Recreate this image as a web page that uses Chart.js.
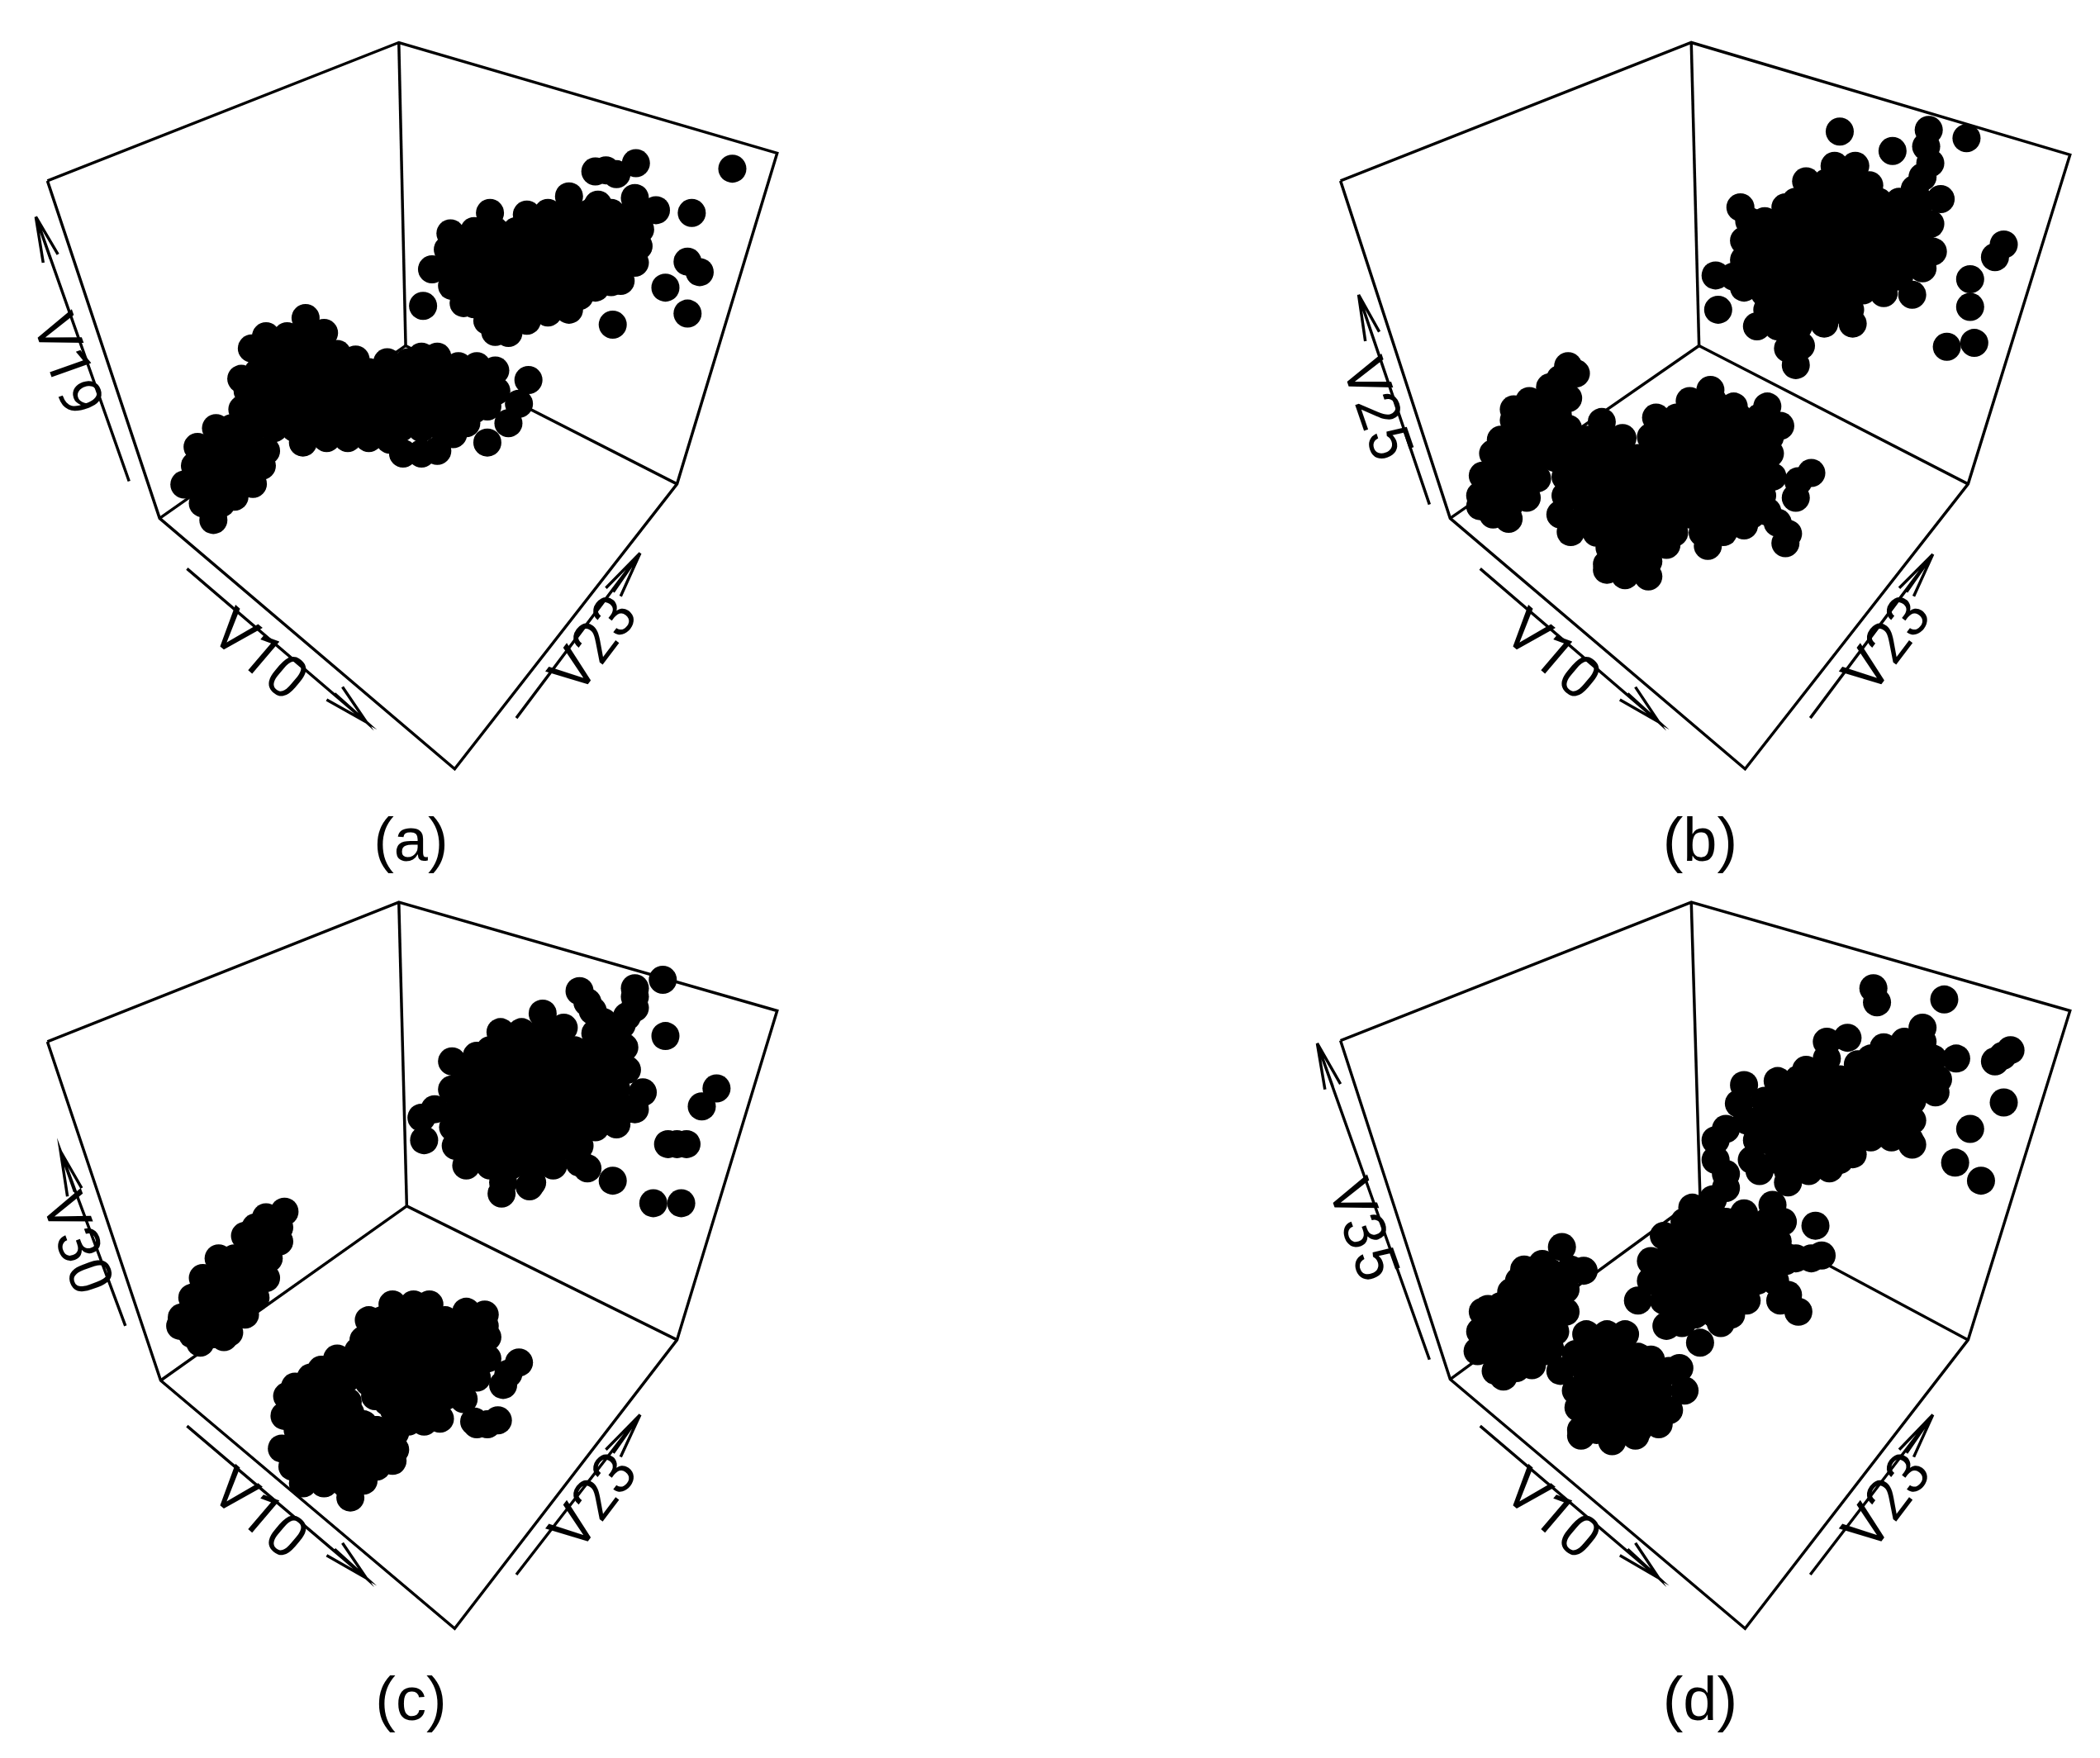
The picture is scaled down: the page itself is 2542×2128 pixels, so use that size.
<!DOCTYPE html>
<html>
<head>
<meta charset="utf-8">
<title>3D scatter panels</title>
<script src="https://cdn.jsdelivr.net/npm/chart.js@4"></script>
<style>
  html, body { margin: 0; background: #fff; }
  #page { position: relative; width: 2542px; height: 2128px; overflow: hidden; }
  #page canvas { position: absolute; }
</style>
</head>
<body>
<div id="page"></div>
<script>
var captions = ["(a)", "(b)", "(c)", "(d)"];
var xLabels = ["V10", "V10", "V10", "V10"];
var yLabels = ["V23", "V23", "V23", "V23"];
var zLabels = ["V19", "V25", "V30", "V35"];

// Panel (a)
var pointsA = [
  [1130,280],[1170,285],[1207,265],[1150,278],[1390,275],[1313,355],[1305,443],[1328,462],[1263,490],[1305,537],[1163,557],[820,457],[803,523],
  [1080,325],[1205,328],[1135,340],
  [930,355],[1000,358],[1040,355],[1080,355],[1120,355],[1160,355],[1200,355],[1245,350],
  [855,392],[900,388],[940,388],[980,388],[1020,388],[1060,388],[1100,388],[1140,388],[1180,388],[1215,385],
  [850,421],[880,421],[920,421],[960,421],[1000,421],[1040,421],[1080,421],[1120,421],[1160,421],[1200,421],[1212,415],
  [860,454],[900,454],[940,454],[980,454],[1020,454],[1060,454],[1100,454],[1140,454],[1180,454],[1205,445],
  [858,487],[880,487],[920,487],[960,487],[1000,487],[1040,487],[1080,487],[1120,487],[1160,480],[1178,478],
  [880,518],[900,520],[940,520],[980,520],[1020,520],[1060,520],[1100,505],[1130,490],[1080,530],
  [925,550],[960,552],[1000,550],[1040,535],[940,570],[965,572],
  [580,545],[505,578],[545,578],[585,578],[615,572],
  [478,600],[520,610],[560,610],[600,610],[640,610],[675,620],[500,625],
  [735,625],[775,625],[800,615],[830,615],[870,632],[905,632],[940,640],
  [490,643],[458,655],[515,643],[540,643],[580,643],[620,643],[660,643],[700,643],[740,643],[780,643],[820,643],[860,643],[900,643],
  [470,677],[495,677],[520,677],[560,677],[600,677],[640,677],[680,677],[720,677],[760,677],[800,677],[840,677],[880,677],[920,677],[942,677],
  [460,710],[500,710],[540,710],[580,710],[620,710],[660,710],[700,710],[740,710],[780,710],[820,710],[860,710],[900,710],[925,705],
  [410,744],[440,744],[480,744],[520,744],[560,744],[600,744],[640,744],[680,744],[720,744],[760,744],[800,744],[840,744],[885,735],
  [575,770],[620,762],[660,762],[700,762],[740,765],[765,790],[800,790],[830,785],[860,755],
  [375,778],[415,778],[460,778],[505,785],[370,812],[400,812],[440,812],[480,812],[497,812],
  [350,846],[385,846],[420,846],[460,846],[480,845],[385,880],[420,880],[445,868],[405,910],
  [925,770],[1003,657],[985,700],[965,735]
];
var frameA = [
  [[90,297],[757,47],[1475,247],[1285,845],[863,1360],[303,907],[90,297]],
  [[757,47],[770,595]],
  [[770,595],[303,907]],
  [[770,595],[1285,845]]
];
var arrowsA = [
  [[245,840],[68,362],[82,445],[68,362],[96,438],[68,362],[110,430]],
  [[355,998],[695,1275],[620,1235],[695,1275],[635,1224],[695,1275],[650,1212]],
  [[980,1268],[1215,970],[1150,1033],[1215,970],[1164,1040],[1215,970],[1178,1048]]
];

// Panel (b)
var pointsB = [
  [1065,208],[1167,243],[1310,220],[1382,412],[1365,435],[1317,475],[1317,525],[1272,597],[1325,590],[830,530],
  [1237,205],[1232,235],[1240,265],[1225,290],
  [1055,270],[1095,270],[1000,298],[1040,300],[1080,300],[1122,305],[1210,312],
  [873,345],[960,345],[980,335],[1020,335],[1060,335],[1100,335],[1140,335],[1180,335],[1220,335],[1260,330],
  [890,370],[920,370],[960,370],[1000,370],[1040,370],[1080,370],[1120,370],[1160,370],[1200,370],[1240,375],
  [880,405],[900,405],[940,405],[980,405],[1020,405],[1060,405],[1100,405],[1140,405],[1180,405],[1220,405],
  [880,440],[920,440],[960,440],[1000,440],[1040,440],[1080,440],[1120,440],[1160,440],[1200,440],[1245,425],
  [825,468],[860,470],[900,470],[940,470],[980,470],[1020,470],[1060,470],[1100,470],[1140,470],[1180,470],[1225,455],
  [880,490],[920,500],[960,500],[1000,500],[1040,500],[1080,500],[1110,495],[1150,500],[1205,503],
  [925,530],[940,530],[980,530],[1020,530],[1060,530],[1085,530],
  [905,560],[945,560],[985,560],[1035,555],[1090,555],
  [965,600],[990,595],[980,630],
  [540,632],[525,655],[555,645],[505,670],[465,695],[505,695],[540,690],[480,700],[435,710],[520,720],
  [435,730],[475,730],[515,730],[605,733],[540,745],
  [410,765],[455,765],[495,765],[535,765],[575,765],[615,765],[645,762],[420,770],[395,790],
  [815,675],[775,695],[820,695],[860,705],[925,705],
  [710,725],[750,725],[790,725],[830,725],[870,725],[910,725],[950,740],
  [700,760],[735,760],[775,760],[815,760],[855,760],[895,760],[930,760],
  [405,798],[435,798],[475,798],[515,798],[555,798],[595,798],[635,798],[675,798],[715,798],[755,798],[795,798],[835,798],[875,798],[915,798],[930,790],
  [375,830],[385,832],[420,832],[460,832],[480,835],[535,832],[575,832],[615,832],[655,832],[695,832],[735,832],[775,832],[815,832],[855,832],[895,832],[935,832],[985,840],[1010,825],
  [370,866],[400,866],[440,866],[460,870],[535,866],[555,866],[595,866],[635,866],[675,866],[715,866],[755,866],[795,866],[835,866],[875,866],[915,866],[980,870],
  [370,885],[395,900],[425,908],[425,885],[525,900],[575,900],[615,900],[655,900],[695,900],[735,900],[775,900],[815,900],[855,900],[895,900],[925,895],
  [545,932],[595,933],[635,933],[675,933],[715,933],[745,933],[800,933],[840,932],[880,920],[965,935],[945,915],
  [620,960],[660,960],[700,960],[730,955],[810,957],[960,952],
  [615,990],[655,990],[695,985],[615,1000],[650,1010],[695,1012]
];
var frameB = [
  [[100,297],[778,47],[1510,250],[1313,845],[882,1360],[312,907],[100,297]],
  [[778,47],[793,595]],
  [[793,595],[312,907]],
  [[793,595],[1313,845]]
];
var arrowsB = [
  [[272,882],[135,503],[148,587],[135,503],[162,578],[135,503],[175,570]],
  [[370,998],[715,1275],[640,1235],[715,1275],[655,1224],[715,1275],[670,1212]],
  [[1008,1268],[1245,972],[1180,1033],[1245,972],[1194,1040],[1245,972],[1208,1048]]
];

// Panel (c)
var pointsC = [
  [1258,185],[1263,285],[1360,378],[1332,410],[1285,477],[1268,477],[1303,477],[1240,582],[1293,582],[1163,542],
  [1100,205],[1115,225],[1125,240],[1145,260],[1205,200],[1205,215],[1205,235],[1190,250],[1180,265],[1160,280],[1130,280],
  [805,470],[800,430],[825,415],
  [1030,245],[950,278],[990,278],[1030,278],[1070,270],
  [905,320],[930,310],[970,310],[1010,310],[1050,310],[1090,310],[1130,310],[1170,310],[1185,305],
  [858,330],[880,345],[910,345],[950,345],[990,345],[1030,345],[1070,345],[1110,345],[1150,345],[1190,345],
  [858,380],[890,380],[930,380],[970,380],[1010,380],[1050,380],[1090,380],[1130,380],[1170,380],[1220,385],
  [870,415],[910,415],[950,415],[990,415],[1030,415],[1070,415],[1110,415],[1150,415],[1190,415],[1205,415],
  [860,447],[890,447],[930,447],[970,447],[1010,447],[1050,447],[1090,447],[1130,447],[1170,442],
  [865,480],[910,480],[950,480],[990,480],[1030,480],[1070,480],[1100,480],
  [885,515],[930,515],[970,515],[1010,515],[1050,515],[1100,510],[1115,520],
  [955,545],[1010,545],[952,565],[1005,552],
  [540,597],[505,607],[465,640],[530,625],[505,645],[530,650],[485,625],
  [415,680],[445,680],[485,680],[510,680],
  [385,715],[425,715],[465,715],[505,715],
  [365,750],[405,750],[445,750],[485,750],
  [345,785],[385,785],[425,785],[465,780],
  [342,800],[365,815],[405,815],[435,812],[380,830],[425,820],
  [745,762],[785,762],[815,762],[885,775],[920,780],
  [700,790],[725,790],[765,790],[805,790],[845,790],[885,795],[920,800],
  [690,825],[705,825],[745,825],[785,825],[825,825],[865,825],[905,825],[925,820],
  [680,845],[650,875],[610,878],
  [640,858],[680,858],[725,858],[765,858],[805,858],[845,858],[885,858],[925,858],[985,865],
  [590,892],[625,892],[660,892],[700,892],[745,892],[785,892],[825,892],[865,892],[905,892],[955,905],[965,885],
  [560,908],[600,908],[640,908],[700,900],
  [545,925],[585,925],[625,925],[660,935],[712,925],[728,918],[735,935],[765,925],[805,925],[845,925],[880,930],
  [560,942],[600,942],[635,945],[665,955],
  [540,960],[575,965],[600,960],[640,960],[672,968],[690,975],[748,950],[785,955],[825,955],[905,975],[945,968],
  [565,985],[610,990],[650,990],[712,985],[715,985],[750,990],[775,970],[805,970],[835,965],[900,970],[925,975],
  [570,1002],[610,1005],[650,1005],[690,1005],[730,1005],
  [535,1018],[575,1018],[615,1018],[655,1018],[695,1018],[735,1018],[750,1020],
  [555,1035],[595,1035],[635,1035],[675,1035],[715,1035],
  [555,1050],[595,1050],[635,1050],[675,1050],[715,1050],[745,1040],
  [575,1080],[615,1080],[655,1080],[690,1075],[665,1105]
];
var frameC = [
  [[90,295],[757,47],[1475,240],[1285,825],[863,1338],[305,897],[90,295]],
  [[757,47],[772,587]],
  [[772,587],[305,897]],
  [[772,587],[1285,825]]
];
var arrowsC = [
  [[238,800],[115,490],[128,570],[115,490],[142,562],[115,490],[155,555]],
  [[355,978],[695,1248],[620,1208],[695,1248],[635,1197],[695,1248],[650,1186]],
  [[980,1242],[1215,958],[1150,1020],[1215,958],[1164,1026],[1215,958],[1178,1033]]
];

// Panel (d)
var pointsD = [
  [1130,200],[1137,225],[1267,220],[1395,310],[1380,320],[1365,330],[1382,403],[1317,450],[1288,510],[1338,542],[1018,622],[1030,675],
  [1225,270],[1040,295],[1080,288],[1150,305],[1190,295],[1225,295],
  [1000,345],[1040,325],[1100,335],[1125,325],[1165,325],[1205,325],[1245,325],[1290,325],
  [880,372],[945,365],[985,362],[1025,362],[1065,362],[1105,362],[1145,362],[1185,362],[1225,362],[1255,362],
  [870,405],[920,400],[965,400],[1005,400],[1045,400],[1085,400],[1125,400],[1165,400],[1205,400],[1250,385],
  [845,450],[885,435],[925,435],[945,435],[985,435],[1025,435],[1065,435],[1105,435],[1145,435],[1185,435],[1205,435],
  [825,470],[905,470],[925,470],[965,470],[1005,470],[1045,470],[1085,470],[1125,465],[1165,465],[1200,470],
  [825,505],[895,505],[945,505],[985,505],[1025,505],[1065,505],[1090,495],[1205,478],
  [910,525],[965,525],[1005,525],[1045,520],[965,545],
  [845,530],[845,555],[820,575],
  [780,590],[815,590],[880,600],[935,585],
  [765,615],[805,615],[845,615],[885,615],[925,615],[955,615],
  [725,640],[745,650],[785,650],[825,650],[865,650],[905,650],[945,650],
  [700,685],[725,685],[765,685],[805,685],[845,685],[885,685],[925,685],[960,685],[980,680],[1010,680],
  [700,720],[745,720],[785,720],[825,720],[865,720],[905,720],[940,720],
  [675,755],[725,755],[765,755],[805,755],[845,755],[885,755],[950,755],[985,775],[965,745],
  [745,780],[785,780],[825,780],[855,780],[730,800],[760,795],[795,830],[835,795],
  [528,660],[570,702],[465,705],[505,705],[545,700],[455,700],[490,690],
  [430,740],[455,740],[485,740],[525,740],[535,735],[445,720],
  [375,775],[415,775],[455,775],[495,775],[535,775],[385,770],[410,765],
  [370,810],[395,810],[435,810],[475,810],[515,810],
  [365,845],[390,845],[415,845],[455,845],[495,845],[505,840],
  [400,880],[415,890],[435,860],[440,875],[470,870],
  [575,815],[615,815],[650,815],
  [555,850],[595,850],[635,850],[675,855],[700,860],
  [525,880],[575,880],[615,880],[655,880],[695,880],[735,880],[755,875],
  [555,915],[595,915],[635,915],[675,915],[715,915],[765,915],
  [560,945],[575,950],[615,950],[655,950],[695,950],[735,950],
  [565,985],[595,985],[635,985],[675,985],[715,975],
  [565,995],[625,1005],[670,995]
];
var frameD = [
  [[100,293],[778,47],[1510,240],[1313,825],[882,1338],[312,895],[100,293]],
  [[778,47],[795,570]],
  [[795,570],[312,895]],
  [[795,570],[1313,825]]
];
var arrowsD = [
  [[272,860],[55,298],[70,380],[55,298],[85,375],[55,298],[100,370]],
  [[370,978],[715,1248],[640,1208],[715,1248],[655,1197],[715,1248],[670,1186]],
  [[1008,1242],[1245,958],[1180,1020],[1245,958],[1194,1026],[1245,958],[1208,1033]]
];

// Where each panel sits on the page and where its text goes
var panels = [
  { box: [0, 20, 1000, 1050], points: pointsA, frame: frameA, arrows: arrowsA,
    xSpot: [487, 1160, 40.5], ySpot: [1134, 1140, -53], zSpot: [120, 632, 70.5], capSpot: [780, 1495] },
  { box: [1560, 20, 982, 1050], points: pointsB, frame: frameB, arrows: arrowsB,
    xSpot: [504, 1160, 40.5], ySpot: [1164, 1140, -53], zSpot: [162, 712, 71], capSpot: [795, 1495] },
  { box: [0, 1060, 1000, 1068], points: pointsC, frame: frameC, arrows: arrowsC,
    xSpot: [487, 1140, 40.5], ySpot: [1134, 1117, -53], zSpot: [138, 656, 70], capSpot: [780, 1470] },
  { box: [1560, 1060, 982, 1068], points: pointsD, frame: frameD, arrows: arrowsD,
    xSpot: [504, 1140, 40.5], ySpot: [1164, 1117, -53], zSpot: [135, 632, 70.5], capSpot: [795, 1470] }
];

function toXY(list) {
  return list.map(function (p) { return { x: p[0], y: p[1] }; });
}

// Rotated axis names and the (a)..(d) captions
var textPlugin = {
  id: "panelText",
  afterDatasetsDraw: function (chart) {
    var o = chart.options.plugins.panelText;
    var ctx = chart.ctx;
    function put(text, spot, size, family) {
      ctx.save();
      ctx.translate(chart.scales.x.getPixelForValue(spot[0]), chart.scales.y.getPixelForValue(spot[1]));
      ctx.rotate((spot[2] || 0) * Math.PI / 180);
      ctx.font = size + 'px "' + family + '"';
      ctx.fillStyle = "#000";
      ctx.textAlign = "center";
      ctx.textBaseline = "middle";
      ctx.fillText(text, 0, 0);
      ctx.restore();
    }
    put(o.xLabel, o.panel.xSpot, 71, "Roboto");
    put(o.yLabel, o.panel.ySpot, 71, "Roboto");
    put(o.zLabel, o.panel.zSpot, 71, "Roboto");
    put(o.caption, o.panel.capSpot, 74, "Liberation Sans");
  }
};

panels.forEach(function (panel, i) {
  var canvas = document.createElement("canvas");
  canvas.width = panel.box[2];
  canvas.height = panel.box[3];
  canvas.style.left = panel.box[0] + "px";
  canvas.style.top = panel.box[1] + "px";
  canvas.style.width = panel.box[2] + "px";
  canvas.style.height = panel.box[3] + "px";
  document.getElementById("page").appendChild(canvas);

  // First dataset is drawn on top, so the points come first
  var datasets = [{
    data: toXY(panel.points),
    showLine: false,
    pointRadius: 17,
    pointBackgroundColor: "#000",
    pointBorderWidth: 0,
    clip: false
  }];
  panel.frame.concat(panel.arrows).forEach(function (line) {
    datasets.push({
      data: toXY(line),
      showLine: true,
      borderColor: "#000",
      borderWidth: 3.5,
      pointRadius: 0,
      tension: 0,
      clip: false
    });
  });

  new Chart(canvas.getContext("2d"), {
    type: "scatter",
    data: { datasets: datasets },
    options: {
      responsive: false,
      animation: false,
      layout: { padding: 0, autoPadding: false },
      scales: {
        x: { type: "linear", display: false, min: 0, max: 1568 },
        y: { type: "linear", display: false, min: 0, max: 1568, reverse: true }
      },
      plugins: {
        legend: { display: false },
        tooltip: { enabled: false },
        panelText: {
          panel: panel,
          xLabel: xLabels[i],
          yLabel: yLabels[i],
          zLabel: zLabels[i],
          caption: captions[i]
        }
      }
    },
    plugins: [textPlugin]
  });
});
</script>
</body>
</html>
